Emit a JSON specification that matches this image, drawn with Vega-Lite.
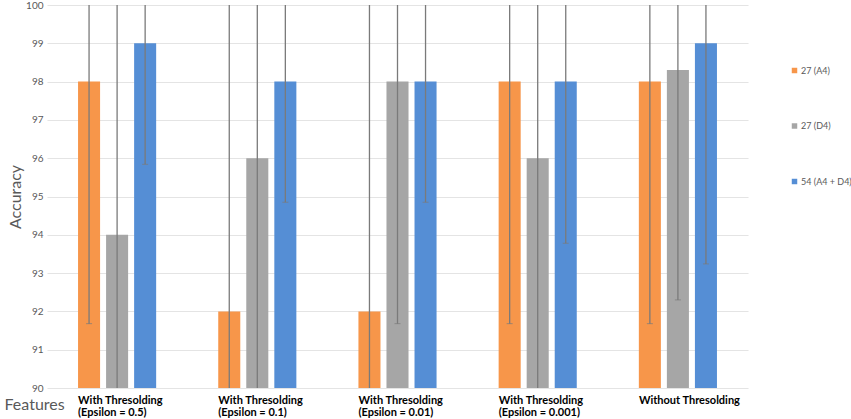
{
  "$schema": "https://vega.github.io/schema/vega-lite/v6.json",
  "autosize": {"type": "none"},
  "padding": {"left": 53, "top": 5, "right": 81, "bottom": 31},
  "width": 717,
  "height": 383,
  "config": {
    "font": "Lato",
    "view": {"stroke": null},
    "axis": {"domain": false, "ticks": false}
  },
  "data": {
    "values": [
      {"group": "With Thresolding|(Epsilon = 0.5)", "series": "27 (A4)", "value": 98, "lo": 91.68, "hi": 104.32},
      {"group": "With Thresolding|(Epsilon = 0.5)", "series": "27 (D4)", "value": 94, "lo": 87.5, "hi": 100.5},
      {"group": "With Thresolding|(Epsilon = 0.5)", "series": "54 (A4 + D4)", "value": 99, "lo": 95.84, "hi": 102.16},
      {"group": "With Thresolding|(Epsilon = 0.1)", "series": "27 (A4)", "value": 92, "lo": 83.5, "hi": 100.5},
      {"group": "With Thresolding|(Epsilon = 0.1)", "series": "27 (D4)", "value": 96, "lo": 89.5, "hi": 102.5},
      {"group": "With Thresolding|(Epsilon = 0.1)", "series": "54 (A4 + D4)", "value": 98, "lo": 94.85, "hi": 101.15},
      {"group": "With Thresolding|(Epsilon = 0.01)", "series": "27 (A4)", "value": 92, "lo": 83.5, "hi": 100.5},
      {"group": "With Thresolding|(Epsilon = 0.01)", "series": "27 (D4)", "value": 98, "lo": 91.68, "hi": 104.32},
      {"group": "With Thresolding|(Epsilon = 0.01)", "series": "54 (A4 + D4)", "value": 98, "lo": 94.85, "hi": 101.15},
      {"group": "With Thresolding|(Epsilon = 0.001)", "series": "27 (A4)", "value": 98, "lo": 91.68, "hi": 104.32},
      {"group": "With Thresolding|(Epsilon = 0.001)", "series": "27 (D4)", "value": 96, "lo": 89.5, "hi": 102.5},
      {"group": "With Thresolding|(Epsilon = 0.001)", "series": "54 (A4 + D4)", "value": 98, "lo": 93.78, "hi": 102.22},
      {"group": "Without Thresolding", "series": "27 (A4)", "value": 98, "lo": 91.68, "hi": 104.32},
      {"group": "Without Thresolding", "series": "27 (D4)", "value": 98.3, "lo": 92.3, "hi": 104.3},
      {"group": "Without Thresolding", "series": "54 (A4 + D4)", "value": 99, "lo": 93.24, "hi": 104.76}
    ]
  },
  "encoding": {
    "x": {
      "field": "group", "type": "nominal", "sort": null,
      "scale": {"range": [-6, 695], "paddingInner": 0.4, "paddingOuter": 0.2},
      "axis": {
        "title": "Features",
        "titleFontSize": 16, "titleFontWeight": "normal", "titleColor": "#595959",
        "titleAngle": 0, "titleAlign": "left", "titleBaseline": "top",
        "titleX": -49, "titleY": 8, "titleAnchor": "start",
        "labelAngle": 0, "labelAlign": "left", "labelBaseline": "top",
        "labelFontWeight": "bold", "labelFontSize": 11, "labelColor": "#000000",
        "labelLineHeight": 12, "labelPadding": 6, "labelOffset": -39,
        "labelExpr": "split(datum.label, '|')", "grid": false
      }
    },
    "xOffset": {
      "field": "series", "type": "nominal",
      "scale": {"domain": ["27 (A4)", "27 (D4)", "54 (A4 + D4)"], "paddingInner": 0.214, "paddingOuter": 0.107}
    }
  },
  "layer": [
    {
      "mark": {"type": "bar", "clip": true},
      "encoding": {
        "y": {
          "field": "value", "type": "quantitative",
          "scale": {"domain": [90, 100], "zero": false, "nice": false},
          "axis": {
            "title": "Accuracy", "titleFontSize": 16, "titleFontWeight": "normal",
            "titleColor": "#595959", "titlePadding": 2,
            "values": [90, 91, 92, 93, 94, 95, 96, 97, 98, 99, 100],
            "labelOverlap": false,
            "labelFontSize": 10, "labelColor": "#595959", "labelPadding": 10,
            "grid": true, "gridColor": "#E4E4E4", "gridWidth": 1.2
          }
        },
        "y2": {"datum": 90},
        "color": {
          "field": "series", "type": "nominal",
          "scale": {"domain": ["27 (A4)", "27 (D4)", "54 (A4 + D4)"], "range": ["#F7964A", "#A6A6A6", "#558ED5"]},
          "legend": {
            "title": null, "orient": "none", "legendX": 737, "legendY": 61,
            "symbolType": "square", "symbolSize": 30, "symbolStrokeWidth": 0,
            "labelFontSize": 9, "labelColor": "#595959", "labelOffset": 2,
            "rowPadding": 45.5, "padding": 0, "labelLimit": 100
          }
        }
      }
    },
    {
      "mark": {"type": "rule", "clip": true, "color": "#7A7A7A", "strokeWidth": 1.3},
      "encoding": {
        "y": {
          "field": "lo", "type": "quantitative",
          "axis": {
            "title": "Accuracy", "titleFontSize": 16, "titleFontWeight": "normal",
            "titleColor": "#595959", "titlePadding": 2,
            "values": [90, 91, 92, 93, 94, 95, 96, 97, 98, 99, 100],
            "labelOverlap": false,
            "labelFontSize": 10, "labelColor": "#595959", "labelPadding": 10,
            "grid": true, "gridColor": "#E4E4E4", "gridWidth": 1.2
          }
        },
        "y2": {"field": "hi"}
      }
    },
    {
      "mark": {"type": "tick", "clip": true, "color": "#7A7A7A", "size": 6, "thickness": 1},
      "encoding": {
        "y": {
          "field": "lo", "type": "quantitative",
          "axis": {
            "title": "Accuracy", "titleFontSize": 16, "titleFontWeight": "normal",
            "titleColor": "#595959", "titlePadding": 2,
            "values": [90, 91, 92, 93, 94, 95, 96, 97, 98, 99, 100],
            "labelOverlap": false,
            "labelFontSize": 10, "labelColor": "#595959", "labelPadding": 10,
            "grid": true, "gridColor": "#E4E4E4", "gridWidth": 1.2
          }
        }
      }
    }
  ]
}
